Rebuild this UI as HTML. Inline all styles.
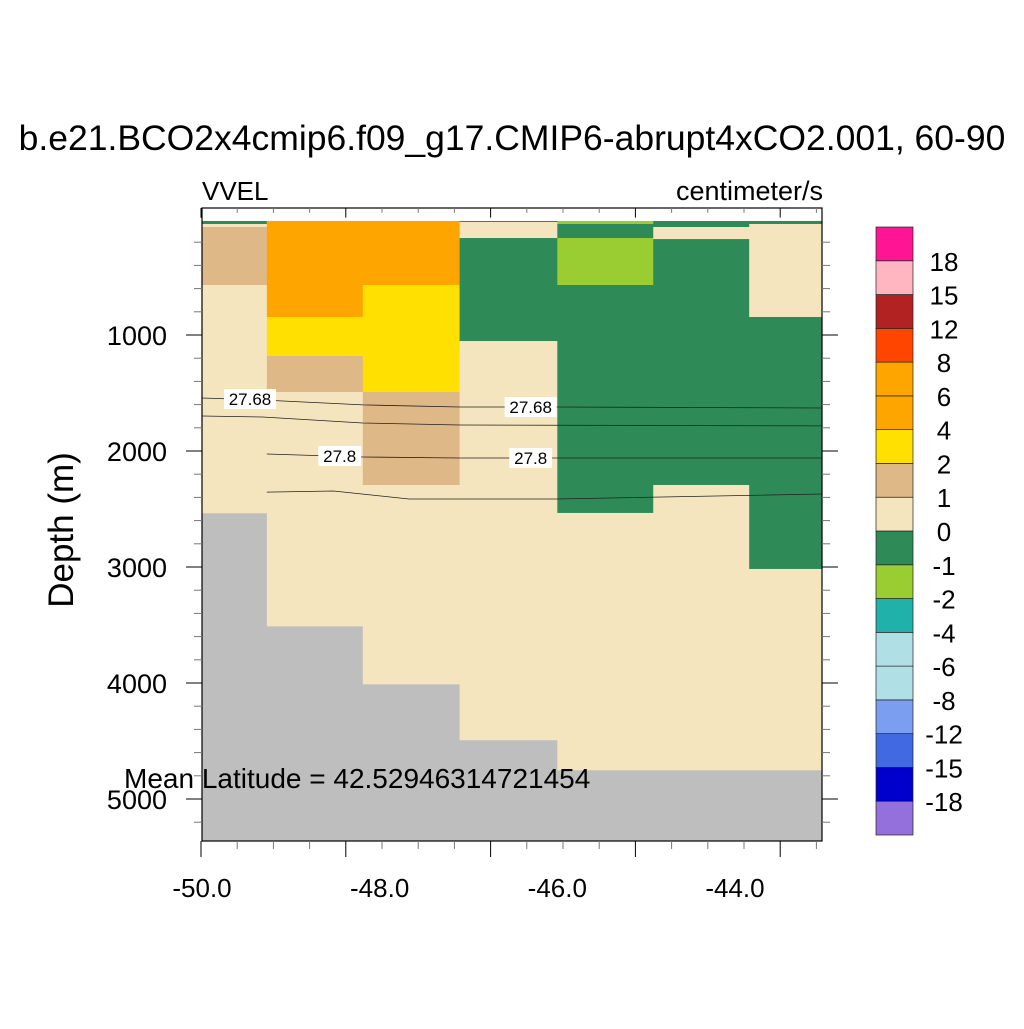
<!DOCTYPE html>
<html><head><meta charset="utf-8"><style>
body{margin:0;background:#fff;}
svg text{font-family:"Liberation Sans",sans-serif;}
</style></head><body>
<svg id="chart" width="1024" height="1024" viewBox="0 0 1024 1024" xmlns="http://www.w3.org/2000/svg">
<text x="512" y="150" font-size="35.5" text-anchor="middle">b.e21.BCO2x4cmip6.f09_g17.CMIP6-abrupt4xCO2.001, 60-90</text>
<text x="202" y="200" font-size="26">VVEL</text>
<text x="823" y="200" font-size="27" text-anchor="end">centimeter/s</text>
<text transform="translate(73,530) rotate(-90)" font-size="35" text-anchor="middle">Depth (m)</text>
<g id="cells"></g><g id="contours"></g><g id="axes"></g><g id="cbar"></g>
<text x="124" y="788" font-size="28">Mean Latitude = 42.52946314721454</text>
</svg>
<script>
// column edges (longitude)
const colEdges=[-50.0,-49.27,-48.19,-47.1,-46.0,-44.92,-43.84,-43.02];
// per-column segments [topDepth,bottomDepth,value]
const col0=[[17,43,-0.5],[43,69,0.5],[69,569,1.5],[569,2534,0.5]];
const col1=[[17,845,5],[845,1181,3],[1181,1491,1.5],[1491,3509,0.5]];
const col2=[[17,569,5],[569,1491,3],[1491,2293,1.5],[2293,4009,0.5]];
const col3=[[17,26,-0.5],[26,164,0.5],[164,1052,-0.5],[1052,4491,0.5]];
const col4=[[17,43,-1.5],[43,164,-0.5],[164,569,-1.5],[569,2534,-0.5],[2534,4750,0.5]];
const col5=[[17,69,-0.5],[69,173,0.5],[173,2293,-0.5],[2293,4750,0.5]];
const col6=[[17,43,-0.5],[43,845,0.5],[845,3017,-0.5],[3017,4750,0.5]];
const columns=[col0,col1,col2,col3,col4,col5,col6];
const levels=[-18,-15,-12,-8,-6,-4,-2,-1,0,1,2,4,6,8,12,15,18];
const colors=["#9370db","#0000cd","#4169e1","#7b9ef0","#b0dfe6","#b0dfe6","#20b2aa","#9acd32","#2e8b57","#f5e5bf","#deb887","#ffe000","#ffa500","#ffa500","#ff4500","#b22222","#ffb6c1","#ff1493"];
const c1Lon=[-50,-49.32,-48.19,-47.1,-46,-43.02];const c1Dep=[1543,1560,1603,1621,1621,1629];
const c2Lon=[-50,-49.32,-48.19,-47.1,-43.02];const c2Dep=[1698,1707,1759,1776,1784];
const c3Lon=[-49.27,-48.19,-47.1,-43.02];const c3Dep=[2026,2052,2060,2060];
const c4Lon=[-49.27,-48.52,-47.67,-46,-43.02];const c4Dep=[2354,2345,2414,2414,2371];
const contourLons=[c1Lon,c2Lon,c3Lon,c4Lon];
const contourDeps=[c1Dep,c2Dep,c3Dep,c4Dep];
const labelText=["27.68","27.68","27.8","27.8"];
const labelLon=[-49.46,-46.3,-48.45,-46.3];
const labelDep=[1552,1621,2043,2060];
const xTicks=[-50,-48,-46,-44];
const yTicks=[1000,2000,3000,4000,5000];
const cbLabels=["18","15","12","8","6","4","2","1","0","-1","-2","-4","-6","-8","-12","-15","-18"];

const NS="http://www.w3.org/2000/svg";
const X0=202,X1=822,Y0=221,Y1=841;
const xs=v=>202+(v+50)*88.83;
const ys=d=>335+(d-1000)*0.116;
function mk(tag,attrs,parent){const e=document.createElementNS(NS,tag);for(const k in attrs)e.setAttribute(k,attrs[k]);parent.appendChild(e);return e;}
function colorFor(v){for(let i=0;i<levels.length;i++){if(v<levels[i])return colors[i];}return colors[colors.length-1];}

const cells=document.getElementById('cells');
let r=mk('rect',{x:X0,y:Y0,width:X1-X0,height:Y1-Y0,fill:'#bebebe'},cells);


columns.forEach((col,ci)=>{
  const xa=xs(colEdges[ci]),xb=xs(colEdges[ci+1]);
  col.forEach(seg=>{
    const c=mk('rect',{x:xa,y:ys(seg[0]),width:xb-xa+0.5,height:ys(seg[1])-ys(seg[0])+0.3,fill:colorFor(seg[2])},cells);
    
    
  });
});

const cg=document.getElementById('contours');
contourLons.forEach((lons,i)=>{
  const pts=lons.map((l,j)=>xs(l).toFixed(1)+','+ys(contourDeps[i][j]).toFixed(1)).join(' ');
  const p=mk('polyline',{points:pts,fill:'none',stroke:'#222',"stroke-width":0.8},cg);
  
  
});
labelText.forEach((t,i)=>{
  const x=xs(labelLon[i]),y=ys(labelDep[i]);
  const w=t.length*9.2+6;
  const b=mk('rect',{x:x-w/2,y:y-10,width:w,height:20,fill:'#fff'},cg);
  
  
  const tx=mk('text',{x:x,y:y+6,"font-size":17,"text-anchor":"middle"},cg);
  tx.textContent=t;
  
  
});

const ax=document.getElementById('axes');
const fr=mk('rect',{x:X0,y:208,width:X1-X0,height:Y1-208,fill:'none',stroke:'#000',"stroke-width":1.2},ax);


for(let k=0;k<=17;k++){
  const x=201+k*36.2; if(x>X1+1)break;
  const major=k%4===0;
  const L=major?16:8;
  mk('line',{x1:x,y1:Y1,x2:x,y2:Y1+L,stroke:major?'#000':'#777',"stroke-width":1},ax);
  mk('line',{x1:x,y1:208,x2:x,y2:208+L*0.6,stroke:major?'#000':'#777',"stroke-width":1},ax);
}
xTicks.forEach(v=>{
  const t=mk('text',{x:xs(v),y:Y1+56,"font-size":26,"text-anchor":"middle"},ax);
  t.textContent=v.toFixed(1);
  
  
});
for(let d=200;d<=5400;d+=200){
  const y=ys(d); if(y<Y0||y>Y1)continue;
  const major=d%1000===0;const L=major?16:8;
  mk('line',{x1:X0-L,y1:y,x2:X0,y2:y,stroke:major?'#000':'#777',"stroke-width":1},ax);
  mk('line',{x1:X1,y1:y,x2:X1+L,y2:y,stroke:major?'#000':'#777',"stroke-width":1},ax);
}
yTicks.forEach(d=>{
  const t=mk('text',{x:167,y:ys(d)+10,"font-size":27,"text-anchor":"end"},ax);
  t.textContent=String(d);
  
  
});

const cb=document.getElementById('cbar');
const bh=(835-227)/colors.length;
colors.forEach((c,i)=>{
  const y=835-(i+1)*bh;
  const b=mk('rect',{x:876,y:y,width:37,height:bh,fill:c,stroke:'#222',"stroke-width":0.7},cb);
  
  
});
cbLabels.forEach((l,i)=>{
  const y=227+(i+1)*bh;
  const t=mk('text',{x:944,y:y+10,"font-size":26,"text-anchor":"middle"},cb);
  t.textContent=l;
  
  
});
</script>
</body></html>
